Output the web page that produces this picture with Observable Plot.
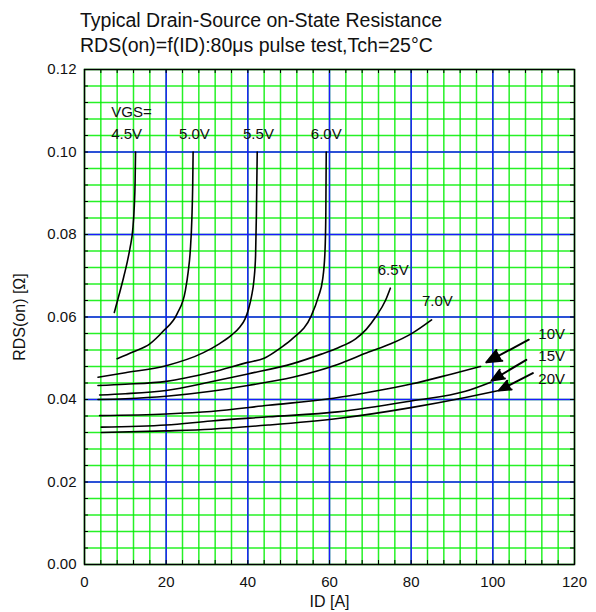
<!DOCTYPE html>
<html><head><meta charset="utf-8">
<script src="https://cdn.jsdelivr.net/npm/d3@7"></script>
<script src="https://cdn.jsdelivr.net/npm/@observablehq/plot@0.6"></script>
<style>
body{margin:0;background:#fff;font-family:"Liberation Sans",Arial,sans-serif;}
#title{height:57px;box-sizing:border-box;padding:8px 0 0 80px;font-size:19.5px;line-height:25px;color:#111;}
#chart svg{display:block;}
</style></head><body>
<div id="title"><div>Typical Drain-Source on-State Resistance</div><div>RDS(on)=f(ID):80μs pulse test,Tch=25°C</div></div>
<div id="chart"></div>
<script>
// Tick values
const xTicks = [0, 20, 40, 60, 80, 100, 120];
const yTicks = [0, 0.02, 0.04, 0.06, 0.08, 0.10, 0.12];
const xMinor = d3.range(0, 121, 4);
const yMinor = d3.range(0, 0.1201, 0.004);
const xMajor = [20, 40, 60, 80, 100];
const yMajor = [0.02, 0.04, 0.06, 0.08, 0.10];

// Curves: ID [A] and RDS(on) [Ohm] per VGS
const id45  = [7.3, 8.5, 9.6, 10.5, 11.2, 11.8, 12.2, 12.4, 12.5];
const rds45 = [0.0611, 0.0655, 0.0697, 0.0735, 0.0770, 0.0810, 0.0870, 0.0930, 0.1000];
const id50  = [8.0, 12, 16, 19.3, 22.7, 24.7, 25.4, 25.9, 26.3, 26.5, 26.6];
const rds50 = [0.0499, 0.0516, 0.0535, 0.0566, 0.0608, 0.0664, 0.0710, 0.0760, 0.0840, 0.0920, 0.1000];
const id55  = [3.3, 10, 20, 29, 33, 36, 38, 39.3, 40.2, 40.9, 41.5, 41.9, 42.1, 42.3];
const rds55 = [0.0454, 0.0465, 0.0482, 0.0513, 0.0535, 0.0556, 0.0575, 0.0595, 0.0620, 0.0650, 0.0690, 0.0750, 0.0850, 0.1000];
const id60  = [3.3, 10, 20, 31, 40, 44, 48, 51, 55.5, 57.3, 58.3, 58.9, 59.1, 59.2];
const rds60 = [0.0434, 0.0437, 0.0444, 0.0466, 0.0490, 0.0500, 0.0525, 0.0548, 0.0602, 0.0650, 0.0690, 0.0760, 0.0850, 0.1000];
const id65  = [3.7, 10, 20, 31, 40, 51, 58, 62, 66.4, 69, 71.3, 73.7, 74.9];
const rds65 = [0.0411, 0.0414, 0.0422, 0.0443, 0.0462, 0.0487, 0.0510, 0.0525, 0.0547, 0.0570, 0.0600, 0.0640, 0.0670];
const id70  = [3.3, 10, 20, 31, 40, 51, 62, 69.6, 75, 80.3, 85];
const rds70 = [0.0400, 0.0402, 0.0408, 0.0420, 0.0434, 0.0454, 0.0485, 0.0515, 0.0535, 0.0561, 0.0593];
const id10v  = [3.7, 20, 31, 45, 61, 70, 80.3, 90, 97];
const rds10v = [0.0361, 0.0365, 0.0371, 0.0386, 0.0403, 0.0418, 0.0438, 0.0462, 0.0480];
const id15v  = [4.1, 20, 31, 45, 62, 80.3, 93.3, 99.5];
const rds15v = [0.0333, 0.0338, 0.0348, 0.0358, 0.0370, 0.0397, 0.0420, 0.0442];
const id20v  = [4.1, 20, 31, 45, 62, 80.3, 93.3, 101.5];
const rds20v = [0.0320, 0.0324, 0.0328, 0.0338, 0.0354, 0.0381, 0.0405, 0.0422];

// Curve labels
const labelText = ["VGS=", "4.5V", "5.0V", "5.5V", "6.0V", "6.5V", "7.0V", "10V", "15V", "20V"];
const labelX    = [11.5, 10.3, 26.9, 42.6, 59.2, 75.6, 86.4, 114.4, 114.4, 114.4];
const labelY    = [0.1097, 0.1043, 0.1043, 0.1043, 0.1043, 0.0713, 0.0638, 0.0558, 0.0504, 0.0450];

// Arrows (from label to curve end)
const arrowX1 = [108.8, 108.2, 109.8];
const arrowY1 = [0.0545, 0.0496, 0.0464];
const arrowX2 = [98.4, 99.7, 101.5];
const arrowY2 = [0.0490, 0.0446, 0.0422];

const curves = [
  ["4.5V", id45, rds45], ["5.0V", id50, rds50], ["5.5V", id55, rds55],
  ["6.0V", id60, rds60], ["6.5V", id65, rds65], ["7.0V", id70, rds70],
  ["10V", id10v, rds10v], ["15V", id15v, rds15v], ["20V", id20v, rds20v]
];
const curveData = curves.flatMap(([v, xs, ys]) => xs.map((x, i) => ({vgs: v, id: x, rds: ys[i]})));
const labels = labelText.map((t, i) => ({t, x: labelX[i], y: labelY[i]}));
const arrows = arrowX1.map((x, i) => ({x1: x, y1: arrowY1[i], x2: arrowX2[i], y2: arrowY2[i]}));

const W = 596, H = 555, mT = 12, mB = 48, mL = 84, mR = 22;
const plotH = H - mT - mB, plotW = W - mL - mR;

const svg = Plot.plot({
  width: W, height: H,
  marginTop: mT, marginBottom: mB, marginLeft: mL, marginRight: mR,
  x: {domain: [0, 120]},
  y: {domain: [0, 0.12]},
  style: {fontFamily: '"Liberation Sans", Arial, sans-serif', fontSize: "15px", color: "#111", background: "white"},
  marks: [
    Plot.ruleX(xMinor, {stroke: "#00ee00", strokeWidth: 1.5, strokeOpacity: 0.85}),
    Plot.ruleY(yMinor, {stroke: "#00ee00", strokeWidth: 1.5, strokeOpacity: 0.85}),
    Plot.ruleX(xMajor, {stroke: "#1a1aff", strokeWidth: 1.5}),
    Plot.ruleY(yMajor, {stroke: "#1a1aff", strokeWidth: 1.5}),
    Plot.ruleX(xMinor, {insetTop: plotH - 4, stroke: "black", strokeWidth: 1}),
    Plot.ruleX(xMinor, {insetBottom: plotH - 4, stroke: "black", strokeWidth: 1}),
    Plot.ruleY(yMinor, {insetRight: plotW - 4, stroke: "black", strokeWidth: 1}),
    Plot.ruleY(yMinor, {insetLeft: plotW - 4, stroke: "black", strokeWidth: 1}),
    Plot.frame({stroke: "black", strokeWidth: 1.5}),
    Plot.axisX(xTicks, {tickSize: 0, tickPadding: 12, fontSize: 15, label: null}),
    Plot.axisY(yTicks, {tickSize: 0, tickPadding: 8, fontSize: 15, tickFormat: d3.format(".2f"), label: null}),
    Plot.axisX([], {fontSize: 16, label: "ID [A]", labelAnchor: "center", labelOffset: 42, labelArrow: "none"}),
    Plot.axisY([], {fontSize: 16, label: "RDS(on) [Ω]", labelAnchor: "center", labelOffset: 71, labelArrow: "none"}),
    Plot.line(curveData, {x: "id", y: "rds", z: "vgs", stroke: "black", strokeWidth: 1.6, curve: "monotone-x"}),
    Plot.arrow(arrows, {x1: "x1", y1: "y1", x2: "x2", y2: "y2", stroke: "black", fill: "black", strokeWidth: 2, headLength: 16, headAngle: 45}),
    Plot.text(labels, {x: "x", y: "y", text: "t", fontSize: 15, fill: "#111", ariaLabel: "curve-labels"})
  ]
});
document.getElementById("chart").append(svg);
svg.querySelectorAll('g[aria-label="curve-labels"] text').forEach(t => {
  const b = t.getBBox();
  const r = document.createElementNS("http://www.w3.org/2000/svg", "rect");
  r.setAttribute("x", b.x - 2);
  r.setAttribute("y", b.y - 1);
  r.setAttribute("width", b.width + 4);
  r.setAttribute("height", b.height + 2);
  r.setAttribute("fill", "white");
  const tr = t.getAttribute("transform");
  if (tr) r.setAttribute("transform", tr);
  t.parentNode.insertBefore(r, t);
});
</script>
</body></html>
